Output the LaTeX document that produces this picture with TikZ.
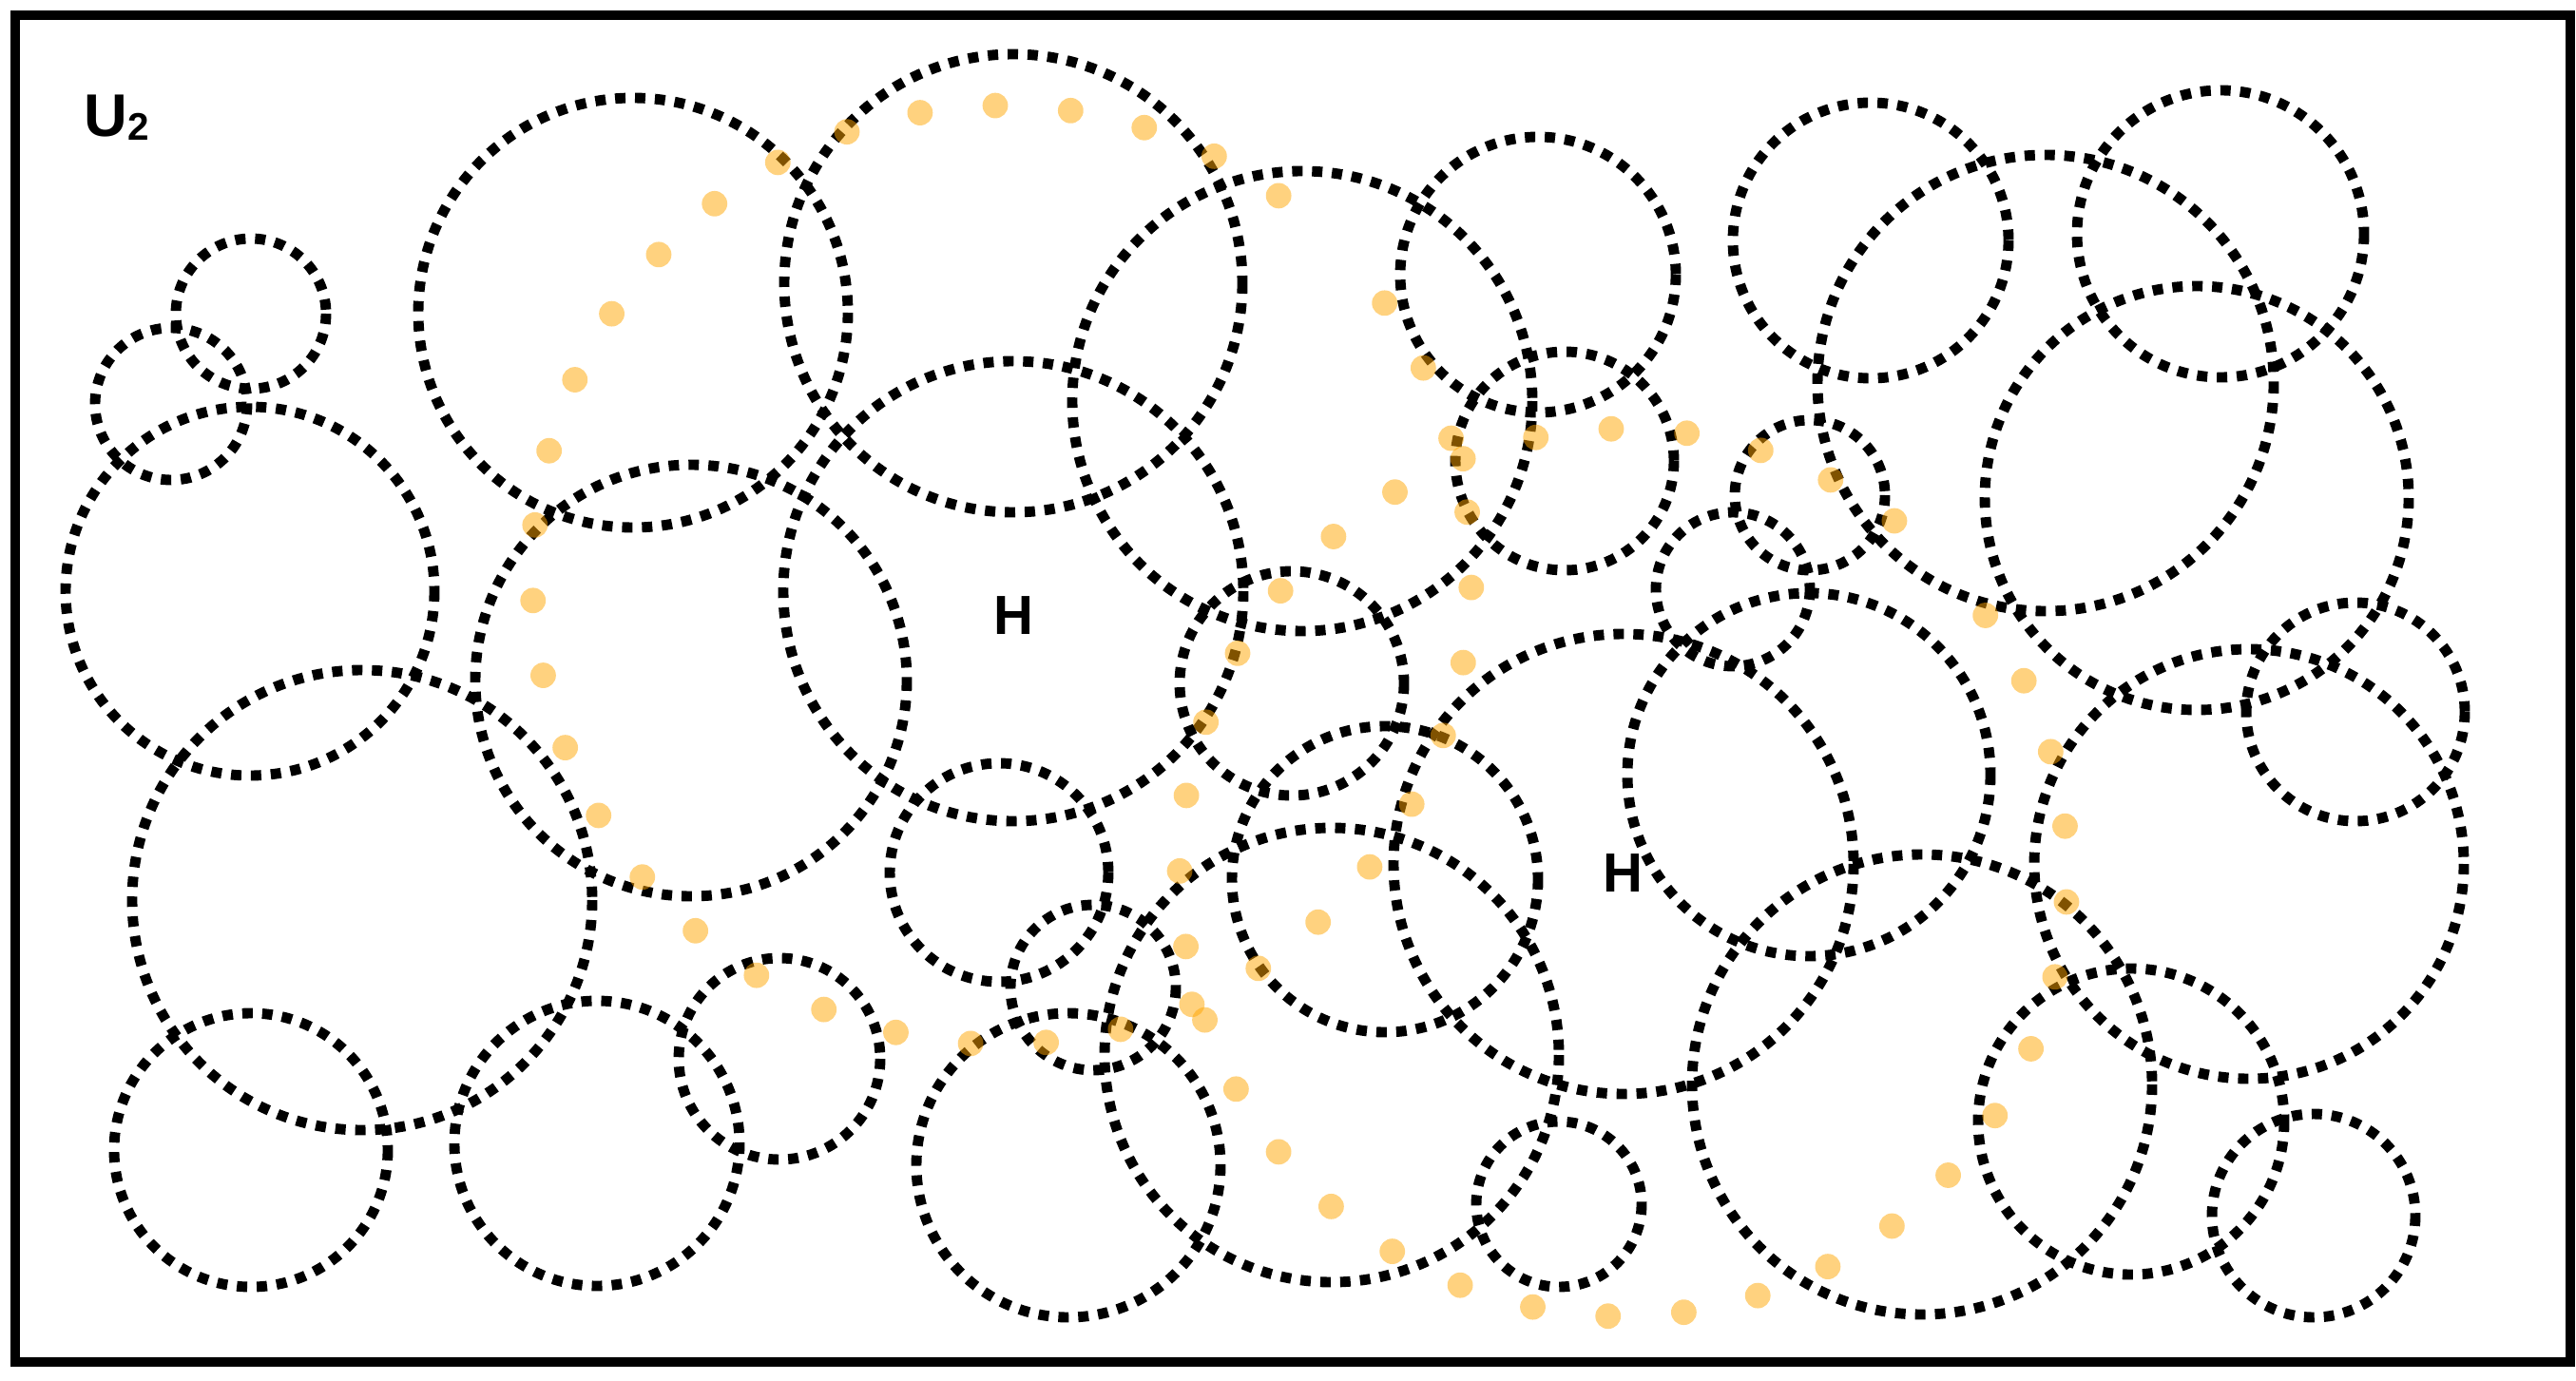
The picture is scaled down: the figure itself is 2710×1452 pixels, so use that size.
\documentclass[tikz,border=0pt]{standalone}
\usepackage{fontspec}
\setmainfont{Liberation Sans}
\definecolor{dotorange}{RGB}{255,165,0}
\tikzset{
  cover/.style={line width=3.1pt, dash pattern=on 3.1pt off 2.85pt},   % dotted open sets
  pathdot/.style={fill=dotorange, fill opacity=0.5},
  setlabel/.style={font=\bfseries\fontsize{16.5}{18}\selectfont, inner sep=0pt}
}
\begin{document}
\begin{tikzpicture}[x=0.01cm, y=-0.01cm]
	\useasboundingbox (0,0) rectangle (2710,1452);
	% frame
	\draw[line width=2.9pt] (16,16) rectangle (2704,1433);

	% open sets
	\foreach \cx/\cy/\r in {264/330/79, 180/425/80, 263/622/194, 381/947/242,
		264/1210/144, 628/1203/150, 820/1114/106, 666/329/226, 727/716/227,
		1066/298/241, 1066/622/242, 1051/918/115, 1150/1039/87, 1124/1226/160,
		1401/1110/239, 1457/925/161, 1359/719/118, 1370/422/242, 1618/289/145,
		1646/485/115, 1708/909/242, 1640/1267/87, 1904/521/79, 1823/620/81,
		1903/815/191, 1968/253/145, 2152/403/240, 2336/246/151, 2311/524/223,
		2478/749/115, 2366/909/226, 2022/1141/242, 2242/1180/161, 2434/1279/107}
		\draw[cover] (\cx,\cy) circle[radius=\r];

	% dotted path, left loop
	\foreach \j in {0,...,37}
		\fill[pathdot] ({1054+494*sin(54.6+9.23*\j)}, {605-494*cos(54.6+9.23*\j)}) circle[radius=13.4];
	% dotted path, right loop
	\foreach \j in {0,...,35}
		\fill[pathdot] ({1708+467*sin(54.6+9.8*\j)}, {918-467*cos(54.6+9.8*\j)}) circle[radius=13.4];

	% labels
	\node[setlabel, anchor=base west] (u2) at (88,144) {\fontsize{18}{20}\selectfont U\raisebox{-1.1pt}{\fontsize{11.5}{12}\selectfont 2}};
	\node[setlabel] (h1) at (1066,648) {H};
	\node[setlabel] (h2) at (1707,919) {H};
\end{tikzpicture}
\end{document}
